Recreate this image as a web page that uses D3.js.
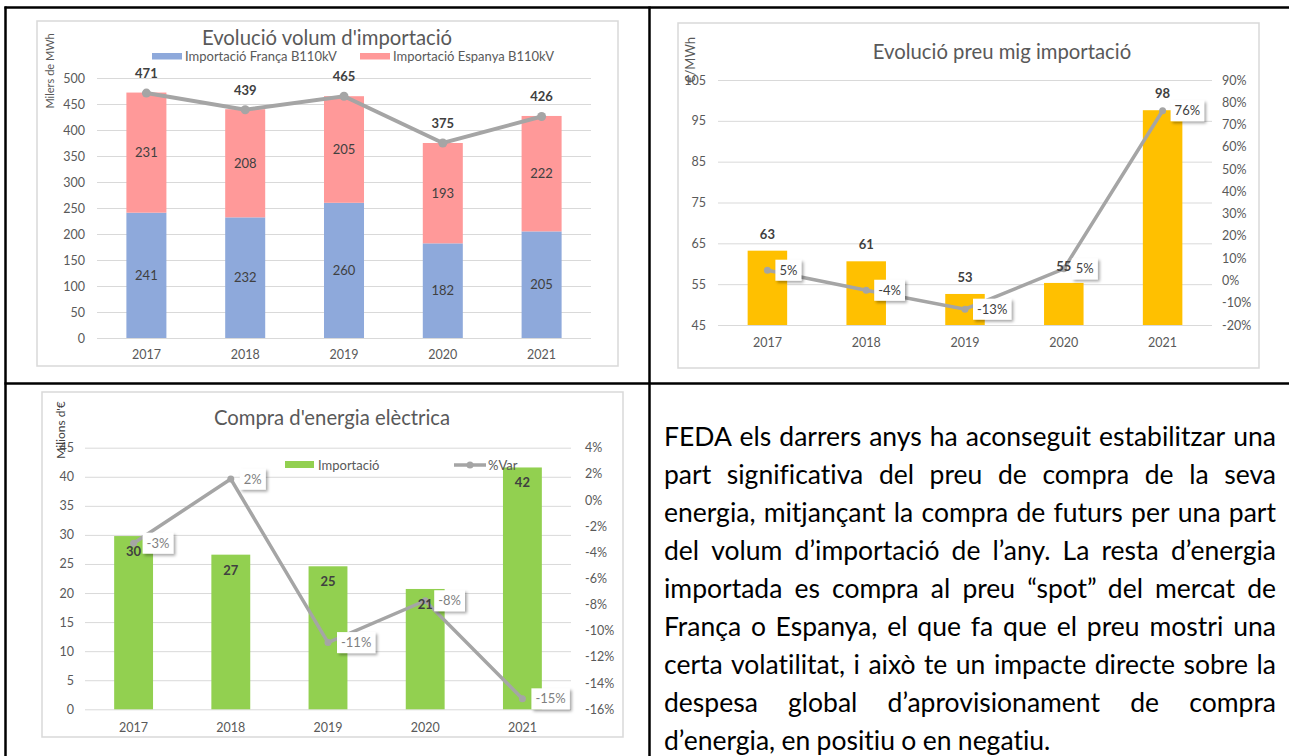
<!DOCTYPE html>
<html>
<head>
<meta charset="utf-8">
<script src="https://cdn.jsdelivr.net/npm/d3@7"></script>
<style>
  body { margin: 0; background: #fff; }
  svg { display: block; font-family: Lato, "Open Sans", sans-serif; font-variant-ligatures: none; }
</style>
</head>
<body>
<svg id="page" width="1289" height="756"></svg>
<script>
// ---- data ----
const years = ["2017", "2018", "2019", "2020", "2021"];

// chart 1: volume (thousands of MWh)
const importFranca = [241, 232, 260, 182, 205];
const importEspanya = [231, 208, 205, 193, 222];
const importTotal = [471, 439, 465, 375, 426];
const volTicks = [0, 50, 100, 150, 200, 250, 300, 350, 400, 450, 500];

// chart 2: average import price
const preuMig = [63.2, 60.6, 52.6, 55.3, 97.6];
const preuVar = [0.046, -0.044, -0.129, 0.052, 0.762];
const preuTicks = [45, 55, 65, 75, 85, 95, 105];
const preuVarTicks = [-0.2, -0.1, 0, 0.1, 0.2, 0.3, 0.4, 0.5, 0.6, 0.7, 0.8, 0.9];

// chart 3: energy purchase (millions of euros)
const compraImport = [29.8, 26.6, 24.6, 20.7, 41.6];
const compraVar = [-0.033, 0.016, -0.109, -0.077, -0.152];
const compraTicks = [0, 5, 10, 15, 20, 25, 30, 35, 40, 45];
const compraVarTicks = [-0.16, -0.14, -0.12, -0.1, -0.08, -0.06, -0.04, -0.02, 0, 0.02, 0.04];

const textLines = [
  "FEDA els darrers anys ha aconseguit estabilitzar una",
  "part significativa del preu de compra de la seva",
  "energia, mitjançant la compra de futurs per una part",
  "del volum d’importació de l’any. La resta d’energia",
  "importada es compra al preu “spot” del mercat de",
  "França o Espanya, el que fa que el preu mostri una",
  "certa volatilitat, i això te un impacte directe sobre la",
  "despesa global d’aprovisionament de compra",
  "d’energia, en positiu o en negatiu."
];

let pct = d => Math.round(d * 100) + "%";
let grey = "#595959";
let lineGrey = "#a5a5a5";

let svg = d3.select("#page");
svg.append("rect").attr("width", 1289).attr("height", 756).attr("fill", "#fff");

let defs = svg.append("defs");
let flt = defs.append("filter").attr("id", "shadow")
    .attr("x", "-20%").attr("y", "-30%").attr("width", "150%").attr("height", "180%");
flt.append("feDropShadow").attr("dx", 2).attr("dy", 2).attr("stdDeviation", 1.5)
    .attr("flood-color", "#000").attr("flood-opacity", 0.35);

// gridlines + left labels
function leftAxis(g, y, ticks, x0, x1, pad, fmt) {
    g.append("g")
        .attr("transform", `translate(${x0},0)`)
        .call(d3.axisLeft(y).tickValues(ticks).tickSize(-(x1 - x0)).tickPadding(pad).tickFormat(fmt))
        .attr("font-family", null).attr("font-size", 12.5)
        .call(a => a.select(".domain").remove())
        .call(a => a.selectAll("line").attr("stroke", "#d9d9d9"))
        .call(a => a.selectAll("text").attr("fill", grey));
}
function rightAxis(g, y, ticks, x1, pad) {
    g.append("g")
        .attr("transform", `translate(${x1},0)`)
        .call(d3.axisRight(y).tickValues(ticks).tickSize(0).tickPadding(pad).tickFormat(pct))
        .attr("font-family", null).attr("font-size", 12.5)
        .call(a => a.select(".domain").remove())
        .call(a => a.selectAll("text").attr("fill", grey));
}
function bottomAxis(g, x, y0, pad) {
    g.append("g")
        .attr("transform", `translate(0,${y0})`)
        .call(d3.axisBottom(x).tickSize(0).tickPadding(pad))
        .attr("font-family", null).attr("font-size", 12.5)
        .call(a => a.select(".domain").remove())
        .call(a => a.selectAll("text").attr("fill", grey));
}
function frame(g, x0, y0, x1, y1) {
    g.append("rect").attr("x", x0).attr("y", y0).attr("width", x1 - x0).attr("height", y1 - y0)
        .attr("fill", "#fff").attr("stroke", "#d9d9d9").attr("stroke-width", 1.5);
}
// white boxes with the % labels
function pctBoxes(g, pts, dx, color) {
    let box = g.selectAll(".pbox").data(pts).enter().append("g")
        .attr("class", "pbox")
        .attr("transform", d => `translate(${d.x + dx},${d.y})`);
    let rects = box.append("rect").attr("fill", "#fff").attr("filter", "url(#shadow)");
    let txt = box.append("text").attr("x", 4).attr("dy", "0.35em")
        .attr("font-size", 13).attr("fill", color).text(d => pct(d.v));
    txt.each(function(d) { d.w = this.getComputedTextLength(); });
    rects.attr("x", 0).attr("y", -10.5).attr("height", 21).attr("width", d => d.w + 8);
}

// ---------- chart 1 ----------
let c1 = svg.append("g");
frame(c1, 37, 21, 618, 366);

let x1 = d3.scaleBand().domain(years).range([97, 591]).paddingInner(0.595).paddingOuter(0.2975);
let y1 = d3.scaleLinear().domain([0, 500]).range([338, 78]);
leftAxis(c1, y1, volTicks, 97, 591, 12, d3.format("d"));
bottomAxis(c1, x1, 338, 12);

let volRows = years.map((yr, i) => ({ year: yr, franca: importFranca[i], espanya: importEspanya[i], total: importTotal[i] }));
let stack = d3.stack().keys(["franca", "espanya"])(volRows);
let stackColors = { franca: "#8ea9db", espanya: "#ff9999" };

stack.forEach(layer => {
    c1.append("g").selectAll("rect").data(layer).enter().append("rect")
        .attr("x", d => x1(d.data.year))
        .attr("width", x1.bandwidth())
        .attr("y", d => y1(d[1]))
        .attr("height", d => y1(d[0]) - y1(d[1]))
        .attr("fill", stackColors[layer.key]);
    c1.append("g").selectAll("text").data(layer).enter().append("text")
        .attr("x", d => x1(d.data.year) + x1.bandwidth() / 2)
        .attr("y", d => (y1(d[0]) + y1(d[1])) / 2)
        .attr("dy", "0.35em")
        .attr("text-anchor", "middle")
        .attr("font-size", 13)
        .attr("fill", "#404040")
        .text(d => d.data[layer.key]);
});

let totLine = d3.line().x(d => x1(d.year) + x1.bandwidth() / 2).y(d => y1(d.total));
c1.append("path").datum(volRows).attr("d", totLine)
    .attr("fill", "none").attr("stroke", lineGrey).attr("stroke-width", 4);
c1.selectAll(".tot").data(volRows).enter().append("circle")
    .attr("cx", d => x1(d.year) + x1.bandwidth() / 2)
    .attr("cy", d => y1(d.total))
    .attr("r", 4.5).attr("fill", lineGrey);
c1.selectAll(".totlab").data(volRows).enter().append("text")
    .attr("x", d => x1(d.year) + x1.bandwidth() / 2)
    .attr("y", d => y1(d.total) - 15)
    .attr("text-anchor", "middle").attr("font-size", 13).attr("font-weight", "bold")
    .attr("fill", "#404040")
    .text(d => d.total);

c1.append("text").attr("x", 327).attr("y", 45).attr("text-anchor", "middle")
    .attr("font-size", 20.3).attr("fill", grey).text("Evolució volum d'importació");
c1.append("text").attr("transform", "translate(50,71) rotate(-90)")
    .attr("text-anchor", "middle").attr("dy", "0.35em")
    .attr("font-size", 11).attr("fill", grey).text("Milers de MWh");

// legend
let leg1 = [["Importació França B110kV", "franca", 152], ["Importació Espanya B110kV", "espanya", 360]];
leg1.forEach(l => {
    c1.append("rect").attr("x", l[2]).attr("y", 53).attr("width", 30).attr("height", 6.5)
        .attr("fill", stackColors[l[1]]);
    c1.append("text").attr("x", l[2] + 33).attr("y", 56).attr("dy", "0.35em")
        .attr("font-size", 13).attr("fill", grey).text(l[0]);
});

// ---------- chart 2 ----------
let c2 = svg.append("g");
frame(c2, 678, 23, 1259, 368);

let x2 = d3.scaleBand().domain(years).range([718, 1212]).paddingInner(0.6).paddingOuter(0.3);
let y2 = d3.scaleLinear().domain([45, 105]).range([325, 80]);
let y2r = d3.scaleLinear().domain([-0.2, 0.9]).range([325, 80]);
leftAxis(c2, y2, preuTicks, 718, 1212, 12, d3.format("d"));
rightAxis(c2, y2r, preuVarTicks, 1212, 10);
bottomAxis(c2, x2, 325, 13);

let preuRows = years.map((yr, i) => ({ year: yr, v: preuMig[i], p: preuVar[i] }));
c2.append("g").selectAll("rect").data(preuRows).enter().append("rect")
    .attr("x", d => x2(d.year)).attr("width", x2.bandwidth())
    .attr("y", d => y2(d.v)).attr("height", d => y2(45) - y2(d.v))
    .attr("fill", "#ffc000");

let preuPts = preuRows.map(d => ({ x: x2(d.year) + x2.bandwidth() / 2, y: y2r(d.p), v: d.p }));
c2.append("path").datum(preuPts).attr("d", d3.line().x(d => d.x).y(d => d.y))
    .attr("fill", "none").attr("stroke", lineGrey).attr("stroke-width", 3.5);
c2.selectAll(".pm").data(preuPts).enter().append("circle")
    .attr("cx", d => d.x).attr("cy", d => d.y).attr("r", 3.5).attr("fill", lineGrey);
pctBoxes(c2, preuPts, 8, "#404040");

c2.append("g").selectAll("text").data(preuRows).enter().append("text")
    .attr("x", d => x2(d.year) + x2.bandwidth() / 2)
    .attr("y", d => y2(d.v) - 12)
    .attr("text-anchor", "middle").attr("font-size", 13).attr("font-weight", "bold")
    .attr("fill", "#404040").text(d => Math.round(d.v));

c2.append("text").attr("x", 1002).attr("y", 59).attr("text-anchor", "middle")
    .attr("font-size", 20.3).attr("fill", grey).text("Evolució preu mig importació");
c2.append("text").attr("transform", "translate(690,60) rotate(-90)")
    .attr("text-anchor", "middle").attr("dy", "0.35em")
    .attr("font-size", 13).attr("fill", grey).text("€/MWh");

// ---------- chart 3 ----------
let c3 = svg.append("g");
frame(c3, 42, 392, 623, 737);

let x3 = d3.scaleBand().domain(years).range([85, 571]).paddingInner(0.6).paddingOuter(0.3);
let y3 = d3.scaleLinear().domain([0, 45]).range([709.3, 447.7]);
let y3r = d3.scaleLinear().domain([-0.16, 0.04]).range([709.3, 447.7]);
leftAxis(c3, y3, compraTicks, 85, 571, 11, d3.format("d"));
rightAxis(c3, y3r, compraVarTicks, 571, 14);
bottomAxis(c3, x3, 709.3, 14);

let compraRows = years.map((yr, i) => ({ year: yr, v: compraImport[i], p: compraVar[i] }));
c3.append("g").selectAll("rect").data(compraRows).enter().append("rect")
    .attr("x", d => x3(d.year)).attr("width", x3.bandwidth())
    .attr("y", d => y3(d.v)).attr("height", d => y3(0) - y3(d.v))
    .attr("fill", "#92d050");

// legend
c3.append("rect").attr("x", 285).attr("y", 461).attr("width", 29).attr("height", 7).attr("fill", "#92d050");
c3.append("text").attr("x", 318).attr("y", 465).attr("dy", "0.35em")
    .attr("font-size", 13).attr("fill", grey).text("Importació");
c3.append("line").attr("x1", 454).attr("x2", 486).attr("y1", 465).attr("y2", 465)
    .attr("stroke", lineGrey).attr("stroke-width", 3.5);
c3.append("circle").attr("cx", 470).attr("cy", 465).attr("r", 3.5).attr("fill", lineGrey);
c3.append("text").attr("x", 488).attr("y", 465).attr("dy", "0.35em")
    .attr("font-size", 13).attr("fill", grey).text("%Var");

let compraPts = compraRows.map(d => ({ x: x3(d.year) + x3.bandwidth() / 2, y: y3r(d.p), v: d.p }));
c3.append("path").datum(compraPts).attr("d", d3.line().x(d => d.x).y(d => d.y))
    .attr("fill", "none").attr("stroke", lineGrey).attr("stroke-width", 3.5);
c3.selectAll(".cm").data(compraPts).enter().append("circle")
    .attr("cx", d => d.x).attr("cy", d => d.y).attr("r", 3.5).attr("fill", lineGrey);
pctBoxes(c3, compraPts, 9, "#7f7f7f");

c3.append("g").selectAll("text").data(compraRows).enter().append("text")
    .attr("x", d => x3(d.year) + x3.bandwidth() / 2)
    .attr("y", d => y3(d.v) + 20)
    .attr("text-anchor", "middle").attr("font-size", 13).attr("font-weight", "bold")
    .attr("fill", "#404040").text(d => Math.round(d.v));

c3.append("text").attr("x", 332).attr("y", 425).attr("text-anchor", "middle")
    .attr("font-size", 20.3).attr("fill", grey).text("Compra d'energia elèctrica");
c3.append("text").attr("transform", "translate(61,430) rotate(-90)")
    .attr("text-anchor", "middle").attr("dy", "0.35em")
    .attr("font-size", 12).attr("fill", "#404040").text("Milions d'€");

// ---------- justified paragraph ----------
let tx0 = 664, tx1 = 1276, ty0 = 446, lh = 38, fs = 26.5;
let para = svg.append("g").attr("font-size", fs).attr("fill", "#000");
textLines.forEach((line, i) => {
    let words = line.split(" ");
    let t = para.append("text").attr("y", ty0 + i * lh);
    let spans = words.map(w => t.append("tspan").text(w));
    let widths = spans.map(s => s.node().getComputedTextLength());
    let gap = fs * 0.24;
    if (i < textLines.length - 1) gap = (tx1 - tx0 - d3.sum(widths)) / (words.length - 1);
    let x = tx0;
    spans.forEach((s, j) => { s.attr("x", x); x += widths[j] + gap; });
});

// ---------- table borders ----------
let border = svg.append("g").attr("stroke", "#000").attr("stroke-width", 2.5);
border.append("line").attr("x1", 4.5).attr("x2", 1289).attr("y1", 7.5).attr("y2", 7.5);
border.append("line").attr("x1", 5.5).attr("x2", 5.5).attr("y1", 6.5).attr("y2", 756);
border.append("line").attr("x1", 649.5).attr("x2", 649.5).attr("y1", 6.5).attr("y2", 756);
border.append("line").attr("x1", 4.5).attr("x2", 1289).attr("y1", 383.5).attr("y2", 383.5);
</script>
</body>
</html>
